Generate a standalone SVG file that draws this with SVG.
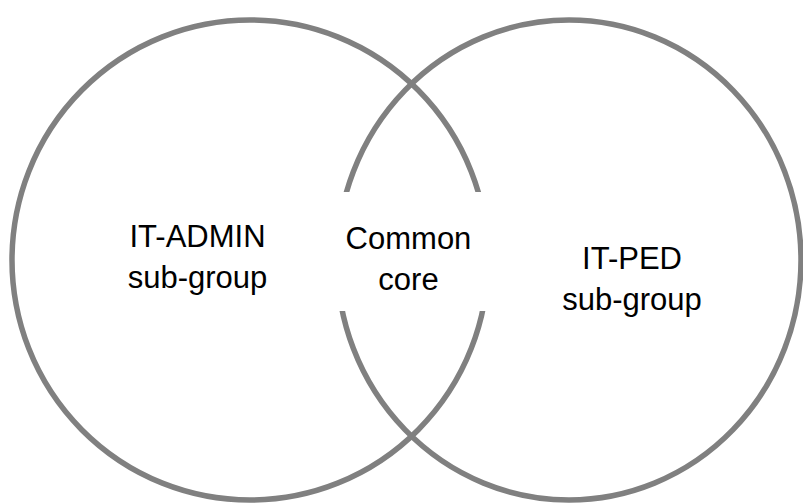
<svg xmlns="http://www.w3.org/2000/svg" width="803" height="504" viewBox="0 0 803 504">
<style>
.ring{fill:none;stroke:#808080;stroke-width:5.5}
.lbl{font-family:"Liberation Sans",Arial,sans-serif;font-size:31px;fill:#000;text-anchor:middle}
</style>
<rect width="803" height="504" fill="#fff"/>
<g id="it-admin">
<ellipse class="ring" cx="250" cy="260" rx="238" ry="240"/>
</g>
<g id="it-ped">
<ellipse class="ring" cx="569" cy="260" rx="232" ry="240"/>
</g>
<g id="common-core">
<rect x="325" y="192" width="172" height="119" fill="#fff"/>
<text class="lbl" x="408.5" y="249">Common</text>
<text class="lbl" x="408.5" y="290">core</text>
</g>
<g id="it-admin-label">
<text class="lbl" x="197.5" y="247">IT-ADMIN</text>
<text class="lbl" x="197.5" y="288">sub-group</text>
</g>
<g id="it-ped-label">
<text class="lbl" x="632" y="269">IT-PED</text>
<text class="lbl" x="632" y="310">sub-group</text>
</g>
<g id="connectors"></g>
</svg>
